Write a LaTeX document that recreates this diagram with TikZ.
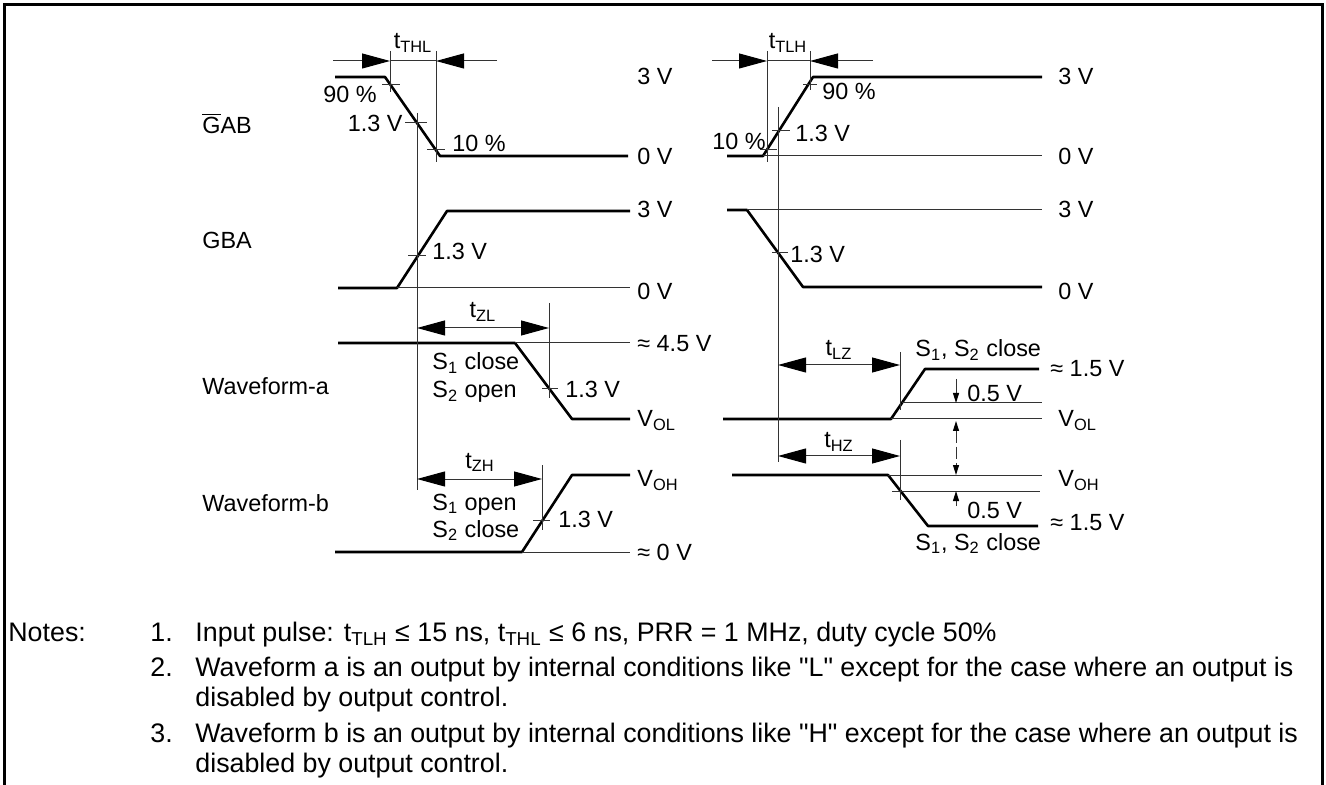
\documentclass[tikz,border=0pt]{standalone}
\usepackage{fontspec}
\setmainfont{Liberation Sans}
\newfontfamily\arialfont{Liberation Sans}
\usetikzlibrary{arrows.meta}

\tikzset{
  wave/.style={line width=1.3pt, line join=round},
  refline/.style={line width=0.5pt, black!80},
  dimline/.style={refline, {Triangle[length=14pt,width=7.5pt,color=black]}-{Triangle[length=14pt,width=7.5pt,color=black]}},
  dimin/.style={refline, -{Triangle[length=14pt,width=7.5pt,color=black]}},
  arr/.style={refline, -{Triangle[length=5pt,width=3pt,color=black]}},
  lbl/.style={inner sep=0pt, anchor=base west, font=\arialfont\fontsize{11.7}{14}\selectfont},
  lblr/.style={lbl, anchor=base east},
  lblc/.style={lbl, anchor=base},
  note/.style={inner sep=0pt, anchor=base west, font=\arialfont\fontsize{13.4}{16}\selectfont},
}

\begin{document}
\begin{tikzpicture}[x=0.5pt, y=-0.5pt]
    \useasboundingbox (0,0) rectangle (1326,785);
    % 边框
    \draw[line width=1.5pt] (4,785) -- (4,5) -- (1322,5) -- (1322,785);

    % 信号名
    \node[lbl] (nGAB) at (202,134) {$\overline{\mbox{G}}$AB};
    \node[lbl] (nGBA) at (202,249) {GBA};
    \node[lbl] (nWA) at (202,395) {Waveform-a};
    \node[lbl] (nWB) at (202,511) {Waveform-b};

    % 电平 (左)
    \foreach \y/\t [count=\i] in {85/3 V, 165/0 V, 218/3 V, 300/0 V, 352/≈ 4.5 V,
        427/V\textsubscript{OL}, 487/V\textsubscript{OH}, 560/≈ 0 V} {
        \node[lbl] (lvL\i) at (637,\y) {\t};
    }
    % 电平 (右)
    \foreach \x/\y/\t [count=\i] in {1058/85/3 V, 1058/165/0 V, 1058/218/3 V, 1058/300/0 V,
        1050/377/≈ 1.5 V, 1058/427/V\textsubscript{OL}, 1058/487/V\textsubscript{OH}, 1050/530/≈ 1.5 V} {
        \node[lbl] (lvR\i) at (\x,\y) {\t};
    }

    % 波形
    \draw[wave] (335,77) -- (385,77) -- (440,156) -- (628,156);
    \draw[wave] (727,156) -- (763,156) -- (813,77) -- (1042,77);
    \draw[wave] (338,288) -- (397,288) -- (447,211) -- (630,211);
    \draw[wave] (727,210) -- (747,210) -- (803,287) -- (1042,287);
    \draw[wave] (338,343) -- (515,343) -- (572,419) -- (630,419);
    \draw[wave] (723,419) -- (891,419) -- (925,369) -- (1039,369);
    \draw[wave] (335,552) -- (522,552) -- (572,475) -- (630,475);
    \draw[wave] (732,475) -- (888,475) -- (928,526) -- (1038,526);

    % 参考线
    \draw[refline] (763,156) -- (1042,156);
    \draw[refline] (397,288) -- (630,288);
    \draw[refline] (747,210) -- (1042,210);
    \draw[refline] (515,343) -- (630,343);
    \draw[refline] (522,552) -- (630,552);
    \draw[refline] (891,419) -- (1042,419);
    \draw[refline] (902,403) -- (1042,403);
    \draw[refline] (888,475) -- (1042,475);
    \draw[refline] (892,491) -- (1040,491);

    % 竖线
    \draw[refline] (390,51) -- (390,92);
    \draw[refline] (436,51) -- (436,162);
    \draw[refline] (417,113) -- (417,490);
    \draw[refline] (767,51) -- (767,162);
    \draw[refline] (810,51) -- (810,90);
    \draw[refline] (778,107) -- (778,462);
    \draw[refline] (549,303) -- (549,398);
    \draw[refline] (542,465) -- (542,530);
    \draw[refline] (900,352) -- (900,410);
    \draw[refline] (900,440) -- (900,500);

    % 刻度
    \draw[refline] (382,85) -- (400,85);
    \draw[refline] (405,123) -- (427,123);
    \draw[refline] (427,150) -- (445,150);
    \draw[refline] (760,150) -- (777,150);
    \draw[refline] (772,131) -- (790,131);
    \draw[refline] (803,85) -- (817,85);
    \draw[refline] (408,256) -- (426,256);
    \draw[refline] (772,253) -- (788,253);
    \draw[refline] (542,389) -- (558,389);
    \draw[refline] (533,520) -- (550,520);

    % 时间
    \draw[dimin] (333,61) -- (390,61);
    \draw[dimin] (497,61) -- (436,61);
    \draw[refline] (390,61) -- (436,61);
    \draw[dimin] (712,61) -- (767,61);
    \draw[dimin] (873,61) -- (810,61);
    \draw[refline] (767,61) -- (810,61);
    \draw[dimline] (417,328) -- (549,328);
    \draw[dimline] (417,479) -- (542,479);
    \draw[dimline] (778,365) -- (900,365);
    \draw[dimline] (778,456) -- (900,456);
    \node[lblc] (tTHL) at (413,49) {t\textsubscript{THL}};
    \node[lblc] (tTLH) at (788,49) {t\textsubscript{TLH}};
    \node[lblc] (tZL) at (483,318) {t\textsubscript{ZL}};
    \node[lblc] (tZH) at (480,468) {t\textsubscript{ZH}};
    \node[lblc] (tLZ) at (839,356) {t\textsubscript{LZ}};
    \node[lblc] (tHZ) at (839,448) {t\textsubscript{HZ}};

    % 0.5 V
    \draw[arr] (956,379) -- (956,403);
    \draw[arr] (956,506) -- (956,491);
    \draw[refline, {Triangle[length=5pt,width=3pt,color=black]}-{Triangle[length=5pt,width=3pt,color=black]}, dash pattern=on 6pt off 2pt] (956,421) -- (956,475);

    % 标注
    \node[lblr] (p90L) at (377,103) {90 \%};
    \node[lblr] (v13L) at (403,132) {1.3 V};
    \node[lbl] (p10L) at (452,152) {10 \%};
    \node[lblr] (p10R) at (766,150) {10 \%};
    \node[lbl] (v13R) at (795,142) {1.3 V};
    \node[lbl] (p90R) at (822,100) {90 \%};
    \node[lbl] (v13b) at (432,260) {1.3 V};
    \node[lbl] (v13c) at (790,263) {1.3 V};
    \node[lbl] (v13d) at (565,398) {1.3 V};
    \node[lbl] (v13e) at (558,527) {1.3 V};
    \node[lbl] (s1c) at (432,370) {S\textsubscript{1} close};
    \node[lbl] (s2o) at (432,398) {S\textsubscript{2} open};
    \node[lbl] (s1o) at (432,510) {S\textsubscript{1} open};
    \node[lbl] (s2c) at (432,537) {S\textsubscript{2} close};
    \node[lbl] (s12a) at (915,357) {S\textsubscript{1}, S\textsubscript{2} close};
    \node[lbl] (s12b) at (915,550) {S\textsubscript{1}, S\textsubscript{2} close};
    \node[lbl] (d05a) at (967,402) {0.5 V};
    \node[lbl] (d05b) at (967,518) {0.5 V};

    % 注释
    \node[note] (notes) at (8,641) {Notes:};
    \node[note] (n1) at (150,641) {1.};
    \node[note] (t1) at (195,641) {Input pulse: t\textsubscript{TLH} ≤ 15 ns, t\textsubscript{THL} ≤ 6 ns, PRR = 1 MHz, duty cycle 50\%};
    \node[note] (n2) at (150,676) {2.};
    \node[note] (t2) at (195,676) {Waveform a is an output by internal conditions like "L" except for the case where an output is};
    \node[note] (t2b) at (195,706) {disabled by output control.};
    \node[note] (n3) at (150,742) {3.};
    \node[note] (t3) at (195,742) {Waveform b is an output by internal conditions like "H" except for the case where an output is};
    \node[note] (t3b) at (195,772) {disabled by output control.};
\end{tikzpicture}
\end{document}
